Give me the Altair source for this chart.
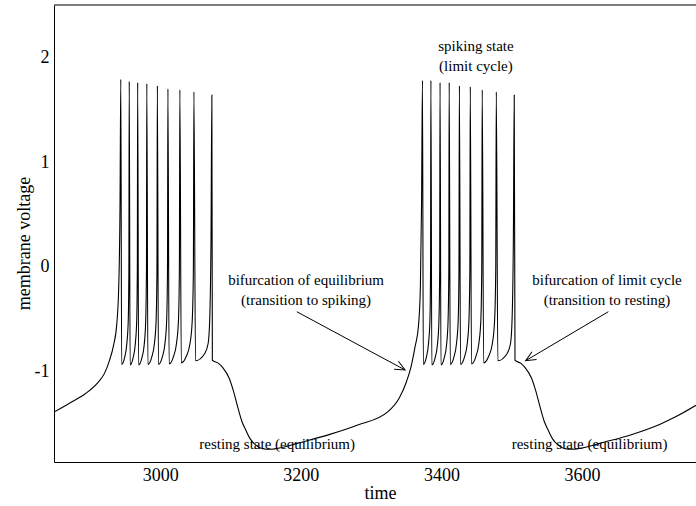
import altair as alt
import pandas as pd

# ---- membrane voltage trace, segment by segment (time, voltage) ----
rise_1_t = [2849.0, 2871.0, 2893.4, 2910.4, 2920.4, 2927.5, 2933.9, 2938.2, 2941.0, 2942.9]
rise_1_v = [-1.385, -1.30, -1.21, -1.11, -1.02, -0.90, -0.74, -0.55, -0.20, 0.60]

burst_1_t = [
    2944.0, 2945.2, 2949.4, 2952.6, 2954.6, 2955.5,
    2956.0, 2957.2, 2961.4, 2964.6, 2966.6, 2967.5,
    2968.0, 2969.3, 2973.9, 2977.4, 2979.4, 2980.5,
    2981.0, 2982.5, 2987.8, 2991.8, 2994.2, 2995.4,
    2996.0, 2997.5, 3002.8, 3006.8, 3009.2, 3010.4,
    3011.0, 3012.7, 3018.7, 3023.2, 3026.0, 3027.3,
    3028.0, 3030.0, 3037.0, 3042.4, 3045.6, 3047.2,
    3048.0, 3050.2, 3063.4, 3068.2, 3070.4, 3072.3,
    3073.5,
]
burst_1_v = [
    1.79, -0.93, -0.865, -0.73, -0.51, -0.03,
    1.77, -0.935, -0.87, -0.735, -0.515, -0.03,
    1.76, -0.935, -0.87, -0.735, -0.515, -0.03,
    1.75, -0.93, -0.865, -0.73, -0.51, -0.03,
    1.73, -0.93, -0.865, -0.73, -0.51, -0.03,
    1.70, -0.925, -0.86, -0.73, -0.51, -0.03,
    1.69, -0.915, -0.855, -0.73, -0.51, -0.03,
    1.67, -0.895, -0.825, -0.73, -0.51, 0.29,
    1.64,
]

rest_1_t = [3074.2, 3083.0, 3089.0, 3098.0, 3104.0, 3110.0, 3116.0, 3122.0, 3128.0, 3136.0,
            3146.0, 3155.0, 3175.0, 3195.0, 3240.0, 3281.0, 3324.0, 3340.0, 3350.0, 3356.8,
            3362.5, 3367.2, 3370.0, 3371.7]
rest_1_v = [-0.89, -0.92, -0.96, -1.06, -1.18, -1.33, -1.47, -1.56, -1.64, -1.70,
            -1.735, -1.74, -1.72, -1.683, -1.60, -1.508, -1.38, -1.25, -1.10, -0.95,
            -0.76, -0.57, -0.20, 0.60]

burst_2_t = [
    3373.0, 3374.2, 3378.4, 3381.6, 3383.6, 3384.5,
    3385.0, 3386.3, 3390.9, 3394.4, 3396.4, 3397.5,
    3398.0, 3399.3, 3403.9, 3407.4, 3409.4, 3410.5,
    3411.0, 3412.5, 3417.5, 3421.4, 3423.8, 3424.9,
    3425.5, 3427.1, 3432.5, 3436.7, 3439.1, 3440.4,
    3441.0, 3442.7, 3448.7, 3453.2, 3456.0, 3457.3,
    3458.0, 3460.0, 3467.0, 3472.4, 3475.6, 3477.2,
    3478.0, 3480.2, 3493.4, 3498.2, 3500.4, 3502.3,
    3503.5,
]
burst_2_v = [
    1.78, -0.93, -0.865, -0.73, -0.51, -0.03,
    1.78, -0.935, -0.87, -0.735, -0.515, -0.03,
    1.76, -0.935, -0.87, -0.735, -0.515, -0.03,
    1.76, -0.93, -0.865, -0.73, -0.51, -0.03,
    1.73, -0.93, -0.865, -0.73, -0.51, -0.03,
    1.72, -0.925, -0.86, -0.73, -0.51, -0.03,
    1.69, -0.915, -0.855, -0.73, -0.51, -0.03,
    1.67, -0.895, -0.825, -0.73, -0.51, 0.29,
    1.64,
]

rest_2_t = [3504.6, 3513.0, 3519.0, 3528.0, 3534.0, 3540.0, 3546.0, 3552.0, 3558.0, 3566.0,
            3576.0, 3585.0, 3605.0, 3625.0, 3670.0, 3711.0, 3733.0, 3762.0]
rest_2_v = [-0.89, -0.92, -0.96, -1.06, -1.18, -1.33, -1.47, -1.56, -1.64, -1.70,
            -1.735, -1.74, -1.72, -1.683, -1.60, -1.50, -1.43, -1.32]

# ---- axis ticks ----
time_ticks = [3000, 3200, 3400, 3600]
voltage_ticks = [-1, 0, 1, 2]

# ---- annotations ----
note_text = ["spiking state", "(limit cycle)",
             "bifurcation of equilibrium", "(transition to spiking)",
             "bifurcation of limit cycle", "(transition to resting)",
             "resting state (equilibrium)", "resting state (equilibrium)"]
note_t = [3449.0, 3449.0, 3207.5, 3207.5, 3635.4, 3635.4, 3166.3, 3610.7]
note_v = [2.11, 1.92, -0.124, -0.315, -0.124, -0.315, -1.689, -1.689]

arrow_t0 = [3194.3, 3637.3]
arrow_v0 = [-0.427, -0.427]
arrow_t1 = [3348.3, 3519.8]
arrow_v1 = [-0.983, -0.894]
arrow_angle = [28.3, 149.3]

T_DOMAIN = [2849, 3762]
V_DOMAIN = [-1.861, 2.5]
FONT = "Liberation Serif"

trace = pd.DataFrame({
    "time": rise_1_t + burst_1_t + rest_1_t + burst_2_t + rest_2_t,
    "voltage": rise_1_v + burst_1_v + rest_1_v + burst_2_v + rest_2_v,
})
trace["order"] = range(len(trace))

notes = pd.DataFrame({"text": note_text, "time": note_t, "voltage": note_v})
arrows = pd.DataFrame({"t0": arrow_t0, "v0": arrow_v0, "t1": arrow_t1,
                       "v1": arrow_v1, "angle": arrow_angle})

x_scale = alt.Scale(domain=T_DOMAIN, nice=False, zero=False)
y_scale = alt.Scale(domain=V_DOMAIN, nice=False, zero=False)

x_axis = alt.Axis(values=time_ticks, format="d", ticks=False, grid=False,
                  labelFont=FONT, labelFontSize=18, labelColor="black", labelPadding=4,
                  domainColor="black", domainWidth=1,
                  title="time", titleFont=FONT, titleFontSize=18, titleFontWeight="normal",
                  titleColor="black", titleX=326, titleY=31, titleBaseline="middle")
y_axis = alt.Axis(values=voltage_ticks, ticks=False, grid=False,
                  labelExpr="datum.value < 0 ? '-' + (-datum.value) : '' + datum.value",
                  labelFont=FONT, labelFontSize=18, labelColor="black", labelPadding=5,
                  domainColor="black", domainWidth=1,
                  title="membrane voltage", titleFont=FONT, titleFontSize=18,
                  titleFontWeight="normal", titleColor="black",
                  titleX=-30, titleY=238, titleBaseline="middle", titleAlign="center")

line = alt.Chart(trace).mark_line(color="black", strokeWidth=1.1,
                                  interpolate="monotone", clip=True).encode(
    x=alt.X("time:Q", scale=x_scale, axis=x_axis),
    y=alt.Y("voltage:Q", scale=y_scale, axis=y_axis),
    order="order:Q",
)

top_edge = alt.Chart(pd.DataFrame({"v": [V_DOMAIN[1]]})).mark_rule(
    color="black", strokeWidth=1).encode(y=alt.Y("v:Q", scale=y_scale))

labels = alt.Chart(notes).mark_text(font=FONT, fontSize=15, color="black",
                                    align="center", baseline="middle").encode(
    x=alt.X("time:Q", scale=x_scale), y=alt.Y("voltage:Q", scale=y_scale), text="text:N")

shafts = alt.Chart(arrows).mark_rule(color="black", strokeWidth=1).encode(
    x=alt.X("t0:Q", scale=x_scale), y=alt.Y("v0:Q", scale=y_scale),
    x2="t1:Q", y2="v1:Q")

heads = alt.Chart(arrows).mark_point(
    shape="M-2,-0.9L0,0L-2,0.9", filled=False, stroke="black", strokeWidth=1,
    size=100, opacity=1).encode(
    x=alt.X("t1:Q", scale=x_scale), y=alt.Y("v1:Q", scale=y_scale),
    angle=alt.Angle("angle:Q", scale=None))

chart = alt.layer(line, top_edge, shafts, heads, labels).properties(
    width=642, height=457,
    autosize=alt.AutoSizeParams(type="none"),
    padding={"left": 54, "top": 5, "right": 0, "bottom": 44},
    background="white",
).configure(font=FONT).configure_text(font=FONT).configure_view(stroke=None)

chart.save("out.html", embed_options={"renderer": "svg", "actions": False})
